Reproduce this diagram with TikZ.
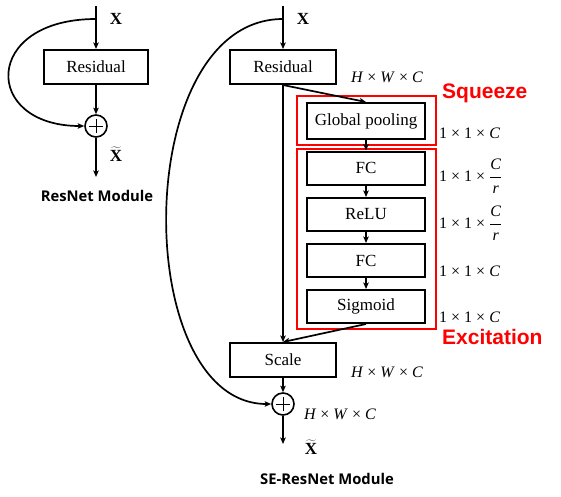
\documentclass[tikz,border=0pt]{standalone}
\usepackage{fontspec}
\setmainfont{Liberation Serif}
\newfontfamily\capfont{Open Sans}
\newfontfamily\redfont{Liberation Sans}
\usetikzlibrary{arrows.meta}
\tikzset{
  blk/.style={draw, line width=2pt, inner sep=0pt, font=\fontsize{17}{20}\selectfont},
  arr/.style={line width=1.7pt, -{Stealth[length=6.5pt,width=5.5pt,inset=1.5pt]}},
  plusnode/.style={circle, draw, line width=1.6pt, minimum size=22pt, inner sep=0pt,
    path picture={\draw[line width=1pt] ([xshift=-7pt]path picture bounding box.center) -- ([xshift=7pt]path picture bounding box.center)
      ([yshift=-7pt]path picture bounding box.center) -- ([yshift=7pt]path picture bounding box.center);}},
  redbox/.style={draw=red, line width=1.1pt, inner sep=0pt},
  xlab/.style={font=\fontsize{17}{20}\selectfont\bfseries, inner sep=1pt},
  dim/.style={font=\fontsize{16}{19}\selectfont, inner sep=0pt},
  redlab/.style={text=red, font=\fontsize{21}{24}\selectfont\redfont\bfseries, inner sep=0pt},
  caption/.style={font=\fontsize{14.8}{17}\selectfont\capfont\bfseries}
}
\newcommand{\hwc}{\textit{H} × \textit{W} × \textit{C}}
\newcommand{\oc}{1 × 1 × \textit{C}}
\newcommand{\ocr}{1 × 1 × \ensuremath{\displaystyle\frac{\mbox{\itshape C}}{\mbox{\itshape r}}}}
\begin{document}
\begin{tikzpicture}[x=1pt,y=-1pt]
\useasboundingbox (0,0) rectangle (561,496);
% ---------- ResNet module ----------
\coordinate (lin) at (96,6);
\coordinate (lbr) at (96,19);
\coordinate (lout) at (96,177);
\node[blk, minimum width=104pt, minimum height=34pt] (lres) at (96,67) {Residual};
\node[plusnode] (lplus) at (96,126) {};
\node[xlab] (lx) at (116,19) {X};
\node[xlab] (lxt) at (116,154) {$\widetilde{\textbf{X}}$};
\node[caption] (lcap) at (97,196) {ResNet Module};
\draw[arr] (lin) -- (lres.north);
\draw[arr] (lres.south) -- (lplus.north);
\draw[arr] (lplus.south) -- (lout);
\draw[arr] (lbr) .. controls (-18,19) and (-18,126) .. (lplus.west);
% ---------- SE-ResNet module ----------
\coordinate (rin) at (283,6);
\coordinate (rbr) at (283,19);
\coordinate (rout) at (283,444);
\node[redbox, minimum width=139pt, minimum height=49pt] (sq) at (366.5,120.5) {};
\node[redbox, minimum width=139pt, minimum height=180pt] (ex) at (366.5,239) {};
\node[blk, minimum width=106pt, minimum height=34pt] (rres) at (283,67) {Residual};
\node[blk, minimum width=118pt, minimum height=36pt] (gp) at (366,121) {Global pooling};
\node[blk, minimum width=118pt, minimum height=33pt] (fc1) at (366,168) {FC};
\node[blk, minimum width=118pt, minimum height=33pt] (relu) at (366,214.5) {ReLU};
\node[blk, minimum width=118pt, minimum height=33pt] (fc2) at (366,260.5) {FC};
\node[blk, minimum width=118pt, minimum height=33pt] (sig) at (366,306.5) {Sigmoid};
\node[blk, minimum width=106pt, minimum height=34pt] (scale) at (283,360) {Scale};
\node[plusnode] (rplus) at (283,404) {};
\node[xlab] (rx) at (303,19) {X};
\node[xlab] (rxt) at (311,447) {$\widetilde{\textbf{X}}$};
\node[caption] (rcap) at (327,479) {SE-ResNet Module};
\node[dim] (d1) at (387,77) {\hwc};
\node[dim, anchor=west] (d2) at (439,133) {\oc};
\node[dim, anchor=west] (d3) at (439,176) {\ocr};
\node[dim, anchor=west] (d4) at (439,223) {\ocr};
\node[dim, anchor=west] (d5) at (439,271) {\oc};
\node[dim, anchor=west] (d6) at (439,317) {\oc};
\node[dim] (d7) at (387,372) {\hwc};
\node[dim] (d8) at (340,414) {\hwc};
\node[redlab, anchor=west] (sqlab) at (442,93) {Squeeze};
\node[redlab, anchor=west] (exlab) at (442,337) {Excitation};
\draw[arr] (rin) -- (rres.north);
\draw[arr] (rres.south) -- (scale.north);
\draw[arr] (rres.south) -- (gp.north);
\draw[arr] (gp.south) -- (fc1.north);
\draw[arr] (fc1.south) -- (relu.north);
\draw[arr] (relu.south) -- (fc2.north);
\draw[arr] (fc2.south) -- (sig.north);
\draw[arr] (sig.south) -- (scale.north);
\draw[arr] (scale.south) -- (rplus.north);
\draw[arr] (rplus.south) -- (rout);
\draw[arr] (rbr) .. controls (130,19) and (130,404) .. (rplus.west);
\end{tikzpicture}
\end{document}
